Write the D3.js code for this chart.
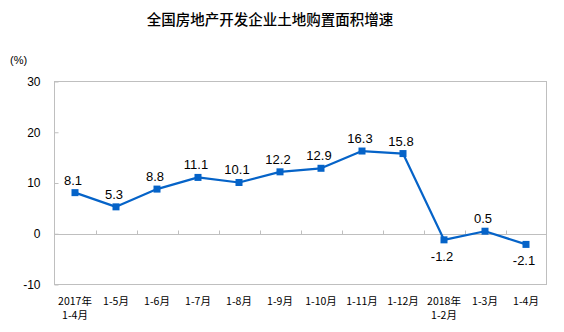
<!DOCTYPE html>
<html>
<head>
<meta charset="utf-8">
<script src="https://cdn.jsdelivr.net/npm/d3@7"></script>
<style>
  html, body { margin: 0; padding: 0; background: #fff; }
  svg { display: block; }
</style>
</head>
<body>
<svg id="chart" width="564" height="332"></svg>
<script>
// Cumulative land purchase area growth, year-on-year (%)
const categories = ["2017年\n1-4月", "1-5月", "1-6月", "1-7月", "1-8月", "1-9月",
                    "1-10月", "1-11月", "1-12月", "2018年\n1-2月", "1-3月", "1-4月"];
const growth = [8.1, 5.3, 8.8, 11.1, 10.1, 12.2, 12.9, 16.3, 15.8, -1.2, 0.5, -2.1];
const yTicks = [-10, 0, 10, 20, 30];

const svg = d3.select("#chart");
const plot = { left: 54.5, right: 546.5, top: 81.5, bottom: 284.5 };
const gridColor = "#bfbfbf";
const lineColor = "#0563c8";
const cjk = "'Noto Sans CJK SC', 'Liberation Sans', sans-serif";
const latin = "'Liberation Sans', Arial, sans-serif";

const x = d3.scaleBand().domain(d3.range(categories.length))
  .range([plot.left, plot.right]).paddingInner(0).paddingOuter(0);
const y = d3.scaleLinear().domain([-10, 30]).range([plot.bottom, plot.top]);

// Title
svg.append("text")
  .attr("x", 270).attr("y", 25)
  .attr("text-anchor", "middle")
  .style("font-family", cjk).style("font-size", "14.5px").style("font-weight", "500")
  .attr("fill", "#000")
  .text("全国房地产开发企业土地购置面积增速");

// Unit label
svg.append("text")
  .attr("x", 10).attr("y", 64)
  .style("font-family", latin).style("font-size", "11px")
  .attr("fill", "#000")
  .text("(%)");

// Plot frame
svg.append("rect")
  .attr("x", plot.left).attr("y", plot.top)
  .attr("width", plot.right - plot.left).attr("height", plot.bottom - plot.top)
  .attr("fill", "none").attr("stroke", gridColor).attr("stroke-width", 1);

// Y axis: inward ticks, labels on the left (plain hyphen for negatives)
const yAxis = d3.axisLeft(y).tickValues(yTicks).tickSize(-4).tickPadding(14)
  .tickFormat(d => String(d));
const yg = svg.append("g").attr("transform", `translate(${plot.left},0)`).call(yAxis);
yg.select(".domain").remove();
yg.selectAll(".tick line").attr("stroke", gridColor);
yg.selectAll(".tick text")
  .style("font-family", latin).style("font-size", "12px").attr("fill", "#000");

// Category axis sitting on the zero line, with upward ticks between categories
const zeroY = Math.round(y(0)) + 0.5;
svg.append("line")
  .attr("x1", plot.left).attr("x2", plot.right)
  .attr("y1", zeroY).attr("y2", zeroY)
  .attr("stroke", gridColor);
const bounds = d3.range(1, categories.length).map(i => x(i));
svg.append("g").selectAll("line").data(bounds).join("line")
  .attr("x1", d => Math.round(d) + 0.5).attr("x2", d => Math.round(d) + 0.5)
  .attr("y1", zeroY).attr("y2", zeroY - 4)
  .attr("stroke", gridColor);

// Category labels below the plot
const xl = svg.append("g").selectAll("text").data(categories).join("text")
  .attr("text-anchor", "middle")
  .attr("transform", (d, i) => `translate(${x(i) + x.bandwidth() / 2},305)`)
  .style("font-family", cjk).style("font-size", "10.5px").attr("fill", "#000");
xl.each(function(d) {
  const lines = d.split("\n");
  const t = d3.select(this);
  lines.forEach((ln, k) => {
    t.append("tspan").attr("x", 0).attr("dy", k === 0 ? 0 : 14).text(ln);
  });
});

// Series line
const cx = i => x(i) + x.bandwidth() / 2;
svg.append("path")
  .datum(growth)
  .attr("fill", "none").attr("stroke", lineColor).attr("stroke-width", 2.2)
  .attr("stroke-linejoin", "round")
  .attr("d", d3.line().x((d, i) => cx(i)).y(d => y(d)));

// Square markers
const ms = 7;
svg.append("g").selectAll("rect").data(growth).join("rect")
  .attr("x", (d, i) => cx(i) - ms / 2).attr("y", d => y(d) - ms / 2)
  .attr("width", ms).attr("height", ms)
  .attr("fill", lineColor);

// Value labels: above for positive values, below for negative ones
svg.append("g").selectAll("text").data(growth).join("text")
  .attr("x", (d, i) => cx(i) - 2)
  .attr("y", d => d < 0 ? y(d) + 21 : y(d) - 8)
  .attr("text-anchor", "middle")
  .style("font-family", latin).style("font-size", "13px").attr("fill", "#000")
  .text(d => d.toFixed(1));
</script>
</body>
</html>
